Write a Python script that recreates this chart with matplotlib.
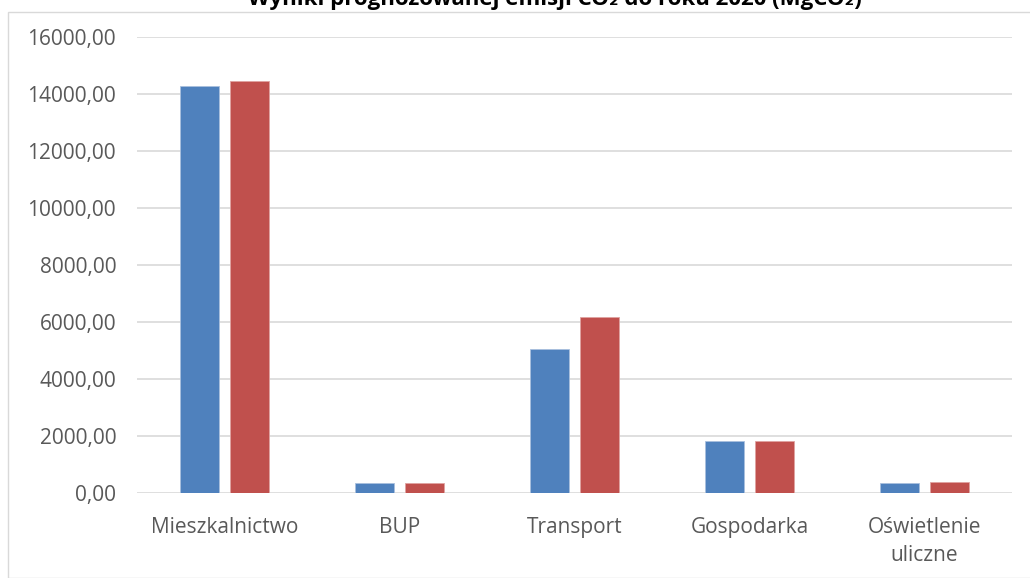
import matplotlib
matplotlib.use("Agg")
import matplotlib.pyplot as plt
from matplotlib.patches import Rectangle
import numpy as np

categories = ["Mieszkalnictwo", "BUP", "Transport", "Gospodarka", "Oświetlenie\nuliczne"]
series_a = [14290, 365, 5053, 1811, 365]
series_b = [14442, 365, 6175, 1835, 386]
yticks = [0, 2000, 4000, 6000, 8000, 10000, 12000, 14000, 16000]
ytick_labels = ["0,00", "2000,00", "4000,00", "6000,00", "8000,00", "10000,00", "12000,00", "14000,00", "16000,00"]
title = "Wyniki prognozowanej emisji CO₂ do roku 2020 (MgCO₂)"

W, H = 1030, 578
fig = plt.figure(figsize=(W / 100, H / 100), dpi=100)
plt.rcParams['font.family'] = ['Open Sans', 'DejaVu Sans']

# chart border
fig.patches.append(Rectangle((8 / W, 0), 1.0, 1 - 12 / H, transform=fig.transFigure,
                             fill=False, edgecolor='#d9d9d9', linewidth=1.0))

ax = fig.add_axes([137 / W, 1 - 493 / H, (1012 - 137) / W, (493 - 37) / H])
x = np.arange(len(categories))
bw = 0.224
off = 0.144
ax.bar(x - off, series_a, bw, color='#4F81BD', edgecolor='#a9c0de', linewidth=0.6, zorder=3)
ax.bar(x + off, series_b, bw, color='#C0504D', edgecolor='#e0a3a1', linewidth=0.6, zorder=3)

ax.set_xlim(-0.5, len(categories) - 0.5)
ax.set_ylim(0, 16000)
ax.set_yticks(yticks)
ax.set_yticklabels(ytick_labels)
ax.set_xticks(x)
ax.set_xticklabels(categories, linespacing=1.45)
ax.yaxis.grid(True, color='#d9d9d9', linewidth=1.2, zorder=0)
ax.set_axisbelow(True)
for s in ax.spines.values():
    s.set_visible(False)
ax.tick_params(axis='both', length=0, colors='#595959', labelsize=15)
ax.tick_params(axis='y', pad=15)
ax.tick_params(axis='x', pad=17)

fig.text(555 / W, 1 - 5 / H, title, ha='center', va='baseline', fontsize=16,
         fontweight='bold', color='black')

fig.savefig("out.png", dpi=100)
